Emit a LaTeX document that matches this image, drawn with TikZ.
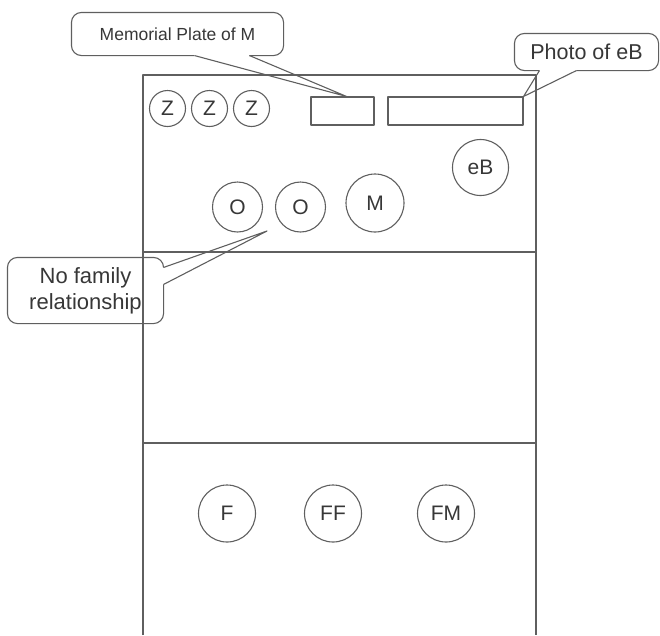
\documentclass[tikz,border=0pt]{standalone}
\usepackage{fontspec}
\setmainfont{Liberation Sans}
\definecolor{linecol}{RGB}{95,95,95}
\definecolor{textcol}{RGB}{55,55,55}
\begin{document}
\begin{tikzpicture}[x=1pt,y=-1pt,
  line width=1.1pt, draw=linecol, line join=round,
  person/.style={circle, draw=linecol, inner sep=0pt, text=textcol, font=\fontsize{21}{23}\selectfont},
  plaque/.style={rectangle, draw=linecol, inner sep=0pt, minimum height=28pt},
  calltext/.style={rectangle, inner sep=0pt, text=textcol, align=center},
  callout/.style={draw=linecol, line width=1.1pt}
]
\useasboundingbox (0,0) rectangle (660,635);
% main frame
\coordinate (bl) at (143,635);
\coordinate (tl) at (143,75);
\coordinate (tr) at (536,75);
\coordinate (br) at (536,635);
\draw[linecol] (bl) -- (tl) -- (tr) -- (br);
\coordinate (d1l) at (143,252); \coordinate (d1r) at (536,252);
\coordinate (d2l) at (143,443); \coordinate (d2r) at (536,443);
\draw[linecol] (d1l) -- (d1r);
\draw[linecol] (d2l) -- (d2r);
% persons
\node[person, minimum size=36pt] (z1) at (167.5,108.5) {Z};
\node[person, minimum size=36pt] (z2) at (209.5,108.5) {Z};
\node[person, minimum size=36pt] (z3) at (251.5,108.5) {Z};
\node[person, minimum size=56pt] (eb) at (480.5,167.5) {eB};
\node[person, minimum size=50pt] (o1) at (237.5,207) {O};
\node[person, minimum size=50pt] (o2) at (300.5,207) {O};
\node[person, minimum size=58pt] (m) at (375,203) {M};
\node[person, minimum size=57pt] (f) at (227,513.5) {F};
\node[person, minimum size=57pt] (ff) at (333,513.5) {FF};
\node[person, minimum size=57pt] (fm) at (446,513.5) {FM};
% plaques
\node[plaque, minimum width=63pt] (plate) at (342.5,111) {};
\node[plaque, minimum width=135pt] (photo) at (455.5,111) {};
% callouts
\node[calltext, minimum width=211pt, minimum height=42pt, font=\fontsize{17.5}{20}\selectfont] (memc) at (177.5,34) {Memorial Plate of M};
\node[calltext, minimum width=143pt, minimum height=36pt, font=\fontsize{21.5}{24}\selectfont] (phc) at (586.5,52) {Photo of eB};
\node[calltext, minimum width=155pt, minimum height=65pt, font=\fontsize{22}{26}\selectfont] (nfc) at (85.5,290.5) {No family\\relationship};
\coordinate (memtip) at ([xshift=4pt]plate.north);
\coordinate (phtip) at (photo.north east);
\coordinate (nftip) at (267,231);
% memorial callout
\draw[callout] ([xshift=123pt]memc.south west) -- (memtip) -- ([xshift=178pt]memc.south west);
\draw[callout, rounded corners=10pt] ([xshift=178pt]memc.south west) -- (memc.south east) -- (memc.north east) -- (memc.north west) -- (memc.south west) -- ([xshift=123pt]memc.south west);
% photo callout
\draw[callout] ([xshift=25pt]phc.south west) -- (phtip) -- ([xshift=62pt]phc.south west);
\draw[callout, rounded corners=10pt] ([xshift=62pt]phc.south west) -- (phc.south east) -- (phc.north east) -- (phc.north west) -- (phc.south west) -- ([xshift=25pt]phc.south west);
% no family callout
\draw[callout] ([yshift=-10pt]nfc.north east) -- (nftip) -- ([yshift=-27pt]nfc.north east);
\draw[callout, rounded corners=10pt] ([yshift=-27pt]nfc.north east) -- (nfc.south east) -- (nfc.south west) -- (nfc.north west) -- (nfc.north east) -- ([yshift=-10pt]nfc.north east);
\end{tikzpicture}
\end{document}
